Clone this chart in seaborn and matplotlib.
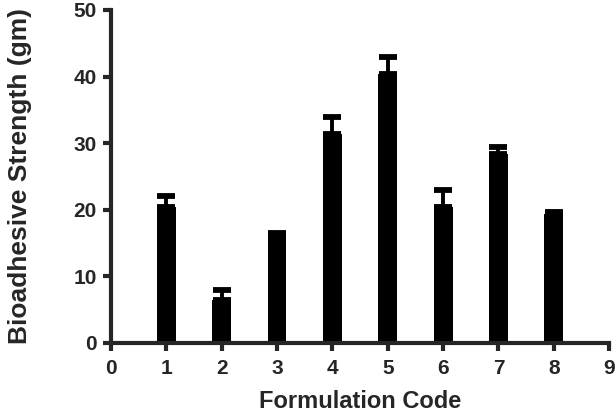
import numpy as np
import pandas as pd
import matplotlib
matplotlib.use("Agg")
import matplotlib.pyplot as plt
import seaborn as sns

# Bioadhesive strength per formulation (mean and upper SD)
formulation = [1, 2, 3, 4, 5, 6, 7, 8]
strength = [20.4, 6.4, 16.3, 31.4, 40.4, 20.4, 28.4, 19.4]
sd = [1.6, 1.5, 0.2, 2.5, 2.5, 2.6, 1.0, 0.2]

df = pd.DataFrame({"Formulation Code": formulation, "Strength": strength})

sns.set_style("ticks")
plt.rcParams["font.family"] = ["Liberation Sans", "DejaVu Sans"]

fig = plt.figure(figsize=(6.16, 4.16), dpi=100)
ax = fig.add_axes([0.180, 0.176, 0.809, 0.800])

sns.barplot(data=df, x="Formulation Code", y="Strength", native_scale=True,
            color="black", width=0.34, errorbar=None, ax=ax,
            edgecolor="black", linewidth=0, saturation=1)

# upper error bars only
ax.errorbar(df["Formulation Code"], df["Strength"],
            yerr=[np.zeros(len(sd)), sd], fmt="none", ecolor="black",
            elinewidth=2.8, capsize=6.8, capthick=4.2)

ax.set_xlim(0, 9)
ax.set_ylim(0, 50)
ax.set_xticks(range(0, 10))
ax.set_yticks(range(0, 51, 10))

for side in ["top", "right"]:
    ax.spines[side].set_visible(False)
for side in ["left", "bottom"]:
    ax.spines[side].set_linewidth(3)
    ax.spines[side].set_capstyle("projecting")
ax.tick_params(axis="both", width=3, length=6, labelsize=15, pad=4)
ax.tick_params(axis="x", pad=6)
for lbl in ax.get_xticklabels() + ax.get_yticklabels():
    lbl.set_fontweight("bold")

ax.set_xlabel("Formulation Code", fontsize=17, fontweight="bold", labelpad=8)
ax.set_ylabel("Bioadhesive Strength (gm)", fontsize=19, fontweight="bold")
ax.yaxis.set_label_coords(-0.158, 0.5)

fig.savefig("out.png", dpi=100)
